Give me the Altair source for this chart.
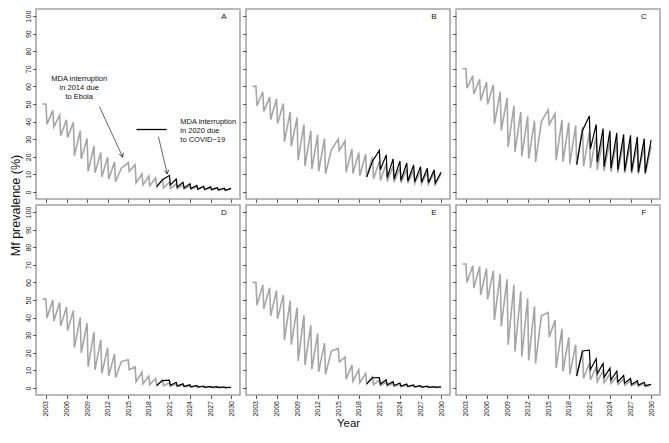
import altair as alt
import pandas as pd

FONT = "Liberation Sans"
GREY = "#a6a6a6"
FRAME = "#a3a3a3"

# ---- time grid -------------------------------------------------------------
YEARS_MDA = list(range(2003, 2014)) + list(range(2015, 2020))   # 2014 skipped (Ebola)
YEARS_GREY_LATE = list(range(2020, 2030))                        # no COVID interruption
YEARS_BLACK_LATE = list(range(2021, 2030))                       # 2020 round missed
X_TICKS = list(range(2003, 2031, 3))
Y_TICKS = list(range(0, 101, 10))
START_YEAR = 2002.5
EBOLA_YEAR = 2014
COVID_YEAR = 2020
END_YEAR = 2030
DROP = 0.15

# ---- panel A ---------------------------------------------------------------
A_START = 50
A_PEAK = [50, 46.4, 43.7, 41, 39.6, 34.8, 30.4, 26, 22.4, 19.7, 17, 16.7, 15.5, 10.3, 9, 8]
A_TROUGH = [38.4, 37, 32, 31, 20.6, 18.8, 11.7, 10.9, 8.7, 7.3, 5.9, 11.7, 5.2, 4, 3.5, 3]
A_EBOLA = 13.5
A_GREY_PEAK = [7, 5.5, 4.6, 4, 3.5, 3.1, 2.8, 2.6, 2.4, 2.2]
A_GREY_TROUGH = [2.4, 2, 1.8, 1.6, 1.5, 1.4, 1.3, 1.2, 1.1, 1]
A_BLACK_MID = 7
A_BLACK_PEAK = [9.4, 7.3, 5.5, 4.6, 3.7, 3.2, 2.9, 2.4, 2]
A_BLACK_TROUGH = [4, 2.8, 2.3, 1.9, 1.6, 1.4, 1.3, 1.1, 1]
A_END = [1.8, 2]

# ---- panel B ---------------------------------------------------------------
B_START = 60
B_PEAK = [60, 57, 54, 53, 50.3, 45.5, 42.3, 38.4, 34.8, 32.5, 30.4, 30, 29, 24.5, 22.4, 21.5]
B_TROUGH = [49, 45.8, 41, 38.9, 28.6, 26, 18, 14.8, 13, 11.7, 10.3, 23.5, 11.2, 10.5, 9.2, 8.5]
B_EBOLA = 24
B_GREY_PEAK = [20, 17.5, 16, 14.8, 13.8, 13, 12.4, 11.8, 11.3, 10.8]
B_GREY_TROUGH = [7.5, 6.5, 6, 5.6, 5.3, 5, 4.8, 4.6, 4.4, 4.3]
B_BLACK_MID = 17.5
B_BLACK_PEAK = [23.6, 21.1, 18.8, 17.6, 16.5, 15.3, 14.4, 13.5, 12.6]
B_BLACK_TROUGH = [12.6, 8.2, 7.3, 6.6, 6.2, 5.8, 5.5, 5.2, 5]
B_END = [10.3, 11.2]

# ---- panel C ---------------------------------------------------------------
C_START = 70
C_PEAK = [70, 66, 64, 62.5, 61, 57, 53.5, 49, 45.5, 43, 40.5, 46.7, 44.5, 41, 39.4, 37.7]
C_TROUGH = [59, 55.7, 52, 49.7, 38.5, 35, 25.6, 22.7, 20.4, 19, 17.1, 38.4, 18, 17.2, 16, 15.5]
C_EBOLA = 40
C_GREY_PEAK = [36.8, 34, 32, 30.5, 29.5, 28.5, 28, 27.5, 27, 26.5]
C_GREY_TROUGH = [14.6, 13.5, 12.5, 12, 11.5, 11, 10.8, 10.5, 10.3, 10]
C_BLACK_MID = 35
C_BLACK_PEAK = [43.2, 38.4, 36, 34.8, 33.6, 32.7, 32.2, 31.3, 30.4]
C_BLACK_TROUGH = [24.5, 17, 14.4, 13.5, 12.6, 12, 11.7, 11.3, 10.9]
C_END = [26, 29.5]

# ---- panel D ---------------------------------------------------------------
D_START = 50.5
D_PEAK = [50.5, 50, 48.6, 46, 44, 40, 36.8, 31.8, 27.3, 22.9, 19.3, 16, 12, 8.9, 6.8, 5.4]
D_TROUGH = [39.8, 38, 35.4, 32.7, 22.9, 20, 12, 10.3, 8.2, 6.8, 5.9, 10.4, 3.6, 2.3, 1.9, 1.4]
D_EBOLA = 15
D_GREY_PEAK = [4.6, 3, 2.2, 1.7, 1.3, 1, 0.8, 0.6, 0.5, 0.4]
D_GREY_TROUGH = [1.2, 1, 0.8, 0.6, 0.5, 0.4, 0.3, 0.3, 0.2, 0.2]
D_BLACK_MID = 4.2
D_BLACK_PEAK = [4.5, 3.2, 2.4, 1.8, 1.4, 1.1, 0.9, 0.7, 0.5]
D_BLACK_TROUGH = [1.5, 1.2, 0.9, 0.7, 0.5, 0.4, 0.3, 0.3, 0.2]
D_END = [0.3, 0.4]

# ---- panel E ---------------------------------------------------------------
E_START = 60
E_PEAK = [60, 58.6, 57, 55.4, 52.9, 49.6, 45.7, 41.3, 35.7, 30.9, 25.5, 22.5, 17.5, 13, 10.4, 8.2]
E_TROUGH = [47, 45, 41, 39.3, 27.3, 24.6, 15.4, 13, 10.7, 9.1, 7.7, 14.8, 5, 3.8, 2.9, 2.3]
E_EBOLA = 21
E_GREY_PEAK = [6.4, 4.5, 3.4, 2.6, 2, 1.6, 1.3, 1, 0.8, 0.7]
E_GREY_TROUGH = [1.8, 1.4, 1.1, 0.9, 0.7, 0.6, 0.5, 0.4, 0.3, 0.3]
E_BLACK_MID = 5.8
E_BLACK_PEAK = [5.9, 4.6, 3.6, 2.8, 2.2, 1.7, 1.3, 1, 0.8]
E_BLACK_TROUGH = [2.2, 1.8, 1.4, 1.1, 0.9, 0.7, 0.5, 0.4, 0.3]
E_END = [0.5, 0.6]

# ---- panel F ---------------------------------------------------------------
F_START = 70.5
F_PEAK = [70.5, 69.6, 69, 67.9, 66.6, 64.8, 61.8, 58.6, 55, 50.9, 46.4, 42.9, 38.6, 33.6, 28.8, 24.6]
F_TROUGH = [60, 56.8, 52.9, 50.5, 38.6, 35, 24.6, 20.7, 17.9, 15.7, 13.9, 28.8, 11.3, 9.5, 7.7, 6.8]
F_EBOLA = 41
F_GREY_PEAK = [21, 14, 12, 10, 8, 6.5, 5, 4, 3, 2.5]
F_GREY_TROUGH = [5.5, 4.5, 3.5, 3, 2.5, 2, 1.5, 1.2, 1, 0.8]
F_BLACK_MID = 21
F_BLACK_PEAK = [21.5, 16.6, 13.9, 11.3, 9.5, 7.1, 5.4, 4.1, 3.2]
F_BLACK_TROUGH = [10.4, 8, 6, 4.5, 3.5, 2.7, 2, 1.6, 1.3]
F_END = [1.5, 2.1]

PANELS = {
    "A": (A_START, A_PEAK, A_TROUGH, A_EBOLA, A_GREY_PEAK, A_GREY_TROUGH, A_BLACK_MID, A_BLACK_PEAK, A_BLACK_TROUGH, A_END),
    "B": (B_START, B_PEAK, B_TROUGH, B_EBOLA, B_GREY_PEAK, B_GREY_TROUGH, B_BLACK_MID, B_BLACK_PEAK, B_BLACK_TROUGH, B_END),
    "C": (C_START, C_PEAK, C_TROUGH, C_EBOLA, C_GREY_PEAK, C_GREY_TROUGH, C_BLACK_MID, C_BLACK_PEAK, C_BLACK_TROUGH, C_END),
    "D": (D_START, D_PEAK, D_TROUGH, D_EBOLA, D_GREY_PEAK, D_GREY_TROUGH, D_BLACK_MID, D_BLACK_PEAK, D_BLACK_TROUGH, D_END),
    "E": (E_START, E_PEAK, E_TROUGH, E_EBOLA, E_GREY_PEAK, E_GREY_TROUGH, E_BLACK_MID, E_BLACK_PEAK, E_BLACK_TROUGH, E_END),
    "F": (F_START, F_PEAK, F_TROUGH, F_EBOLA, F_GREY_PEAK, F_GREY_TROUGH, F_BLACK_MID, F_BLACK_PEAK, F_BLACK_TROUGH, F_END),
}

# ---- annotations in panel A (year / prevalence coordinates) -----------------
NOTE_LINES_1 = ["MDA interruption", "in 2014 due", "to Ebola"]
NOTE_LINES_2 = ["MDA interruption", "in 2020 due", "to COVID\u221219"]
NOTE_POS_1 = (2007.85, 66.5)
NOTE_POS_2 = (2022.6, 42)
ARROW_1 = (2010.8, 48.5, 2014.2, 19.8, 157)
ARROW_2 = (2019.4, 31.5, 2020.7, 10.2, 167)
BAR = (2016.2, 2020.6, 35.5)

W, H = 204, 190
X_DOMAIN = [2001.55, 2031.3]
Y_DOMAIN = [-4, 104]
XS = alt.Scale(domain=X_DOMAIN, nice=False, zero=False)
YS = alt.Scale(domain=Y_DOMAIN, nice=False, zero=False)


def px(year):
    return (year - X_DOMAIN[0]) / (X_DOMAIN[1] - X_DOMAIN[0]) * W


def py(val):
    return (Y_DOMAIN[1] - val) / (Y_DOMAIN[1] - Y_DOMAIN[0]) * H


def build_frames(key):
    start, peak, trough, ebola, gpk, gtr, bmid, bpk, btr, end = PANELS[key]
    grey = [(START_YEAR, start)]
    for y, p, t in zip(YEARS_MDA, peak, trough):
        grey += [(y, p), (y + DROP, t)]
    grey.append((EBOLA_YEAR, ebola))
    for y, p, t in zip(YEARS_GREY_LATE, gpk, gtr):
        grey += [(y, p), (y + DROP, t)]
    grey.append((END_YEAR, end[0]))
    black = [(YEARS_MDA[-1] + DROP, trough[-1]), (COVID_YEAR, bmid)]
    for y, p, t in zip(YEARS_BLACK_LATE, bpk, btr):
        black += [(y, p), (y + DROP, t)]
    black.append((END_YEAR, end[1]))
    g = pd.DataFrame(grey, columns=["year", "value"])
    b = pd.DataFrame(black, columns=["year", "value"])
    return g, b


def axes(key, row, col):
    if row == 1:
        xa = alt.Axis(values=X_TICKS, format="d", labelAngle=270, labelAlign="right",
                      labelBaseline="middle", labelPadding=2, labelFontSize=7,
                      labelFlush=False, labelOverlap=False,
                      title=("Year" if key == "E" else ""),
                      titleFontSize=11.5, titleFontWeight="normal", titlePadding=1)
    else:
        xa = alt.Axis(values=X_TICKS, labels=False, title="")
    if col == 0:
        ya = alt.Axis(values=Y_TICKS, labelAngle=270, labelAlign="center",
                      labelBaseline="bottom", labelPadding=1.5, labelFontSize=7,
                      labelFlush=False, labelOverlap=False,
                      title=("Mf prevalence (%)" if key == "A" else ""),
                      titleAngle=270, titleX=-14, titleY=H + 6, titleAlign="center",
                      titleBaseline="bottom", titleFontSize=12.5, titleFontWeight="normal")
    else:
        ya = alt.Axis(values=Y_TICKS, labels=False, title="")
    return xa, ya


def one_row(**kw):
    return pd.DataFrame({k: [v] for k, v in kw.items()})


def panel(key, row, col):
    g, b = build_frames(key)
    xa, ya = axes(key, row, col)
    grey = alt.Chart(g).mark_line(color=GREY, strokeWidth=1.6).encode(
        x=alt.X("year:Q", scale=XS, axis=xa), y=alt.Y("value:Q", scale=YS, axis=ya))
    blk = alt.Chart(b).mark_line(color="black", strokeWidth=1.2).encode(
        x=alt.X("year:Q", scale=XS, axis=xa), y=alt.Y("value:Q", scale=YS, axis=ya))
    letter = alt.Chart(one_row(t=key)).mark_text(
        fontSize=8, font=FONT, align="center", baseline="middle", color="#111").encode(
        text="t:N", x=alt.value(W - 16), y=alt.value(8))
    layers = [grey, blk, letter]
    if key == "A":
        t1 = alt.Chart(one_row(t=NOTE_LINES_1[0])).mark_text(
            text=NOTE_LINES_1, fontSize=7.5, lineHeight=9, font=FONT, align="center",
            baseline="top", color="#111").encode(
            x=alt.value(px(NOTE_POS_1[0])), y=alt.value(py(NOTE_POS_1[1])))
        t2 = alt.Chart(one_row(t=NOTE_LINES_2[0])).mark_text(
            text=NOTE_LINES_2, fontSize=7.5, lineHeight=9, font=FONT, align="left",
            baseline="top", color="#111").encode(
            x=alt.value(px(NOTE_POS_2[0])), y=alt.value(py(NOTE_POS_2[1])))
        layers += [t1, t2]
        bar = alt.Chart(one_row(k=0)).mark_rule(color="black", strokeWidth=1.3).encode(
            x=alt.value(px(BAR[0])), x2=alt.value(px(BAR[1])), y=alt.value(py(BAR[2])))
        layers.append(bar)
        for (x1, y1, x2, y2, ang) in (ARROW_1, ARROW_2):
            shaft = alt.Chart(one_row(k=0)).mark_rule(color="#222", strokeWidth=0.7).encode(
                x=alt.value(px(x1)), y=alt.value(py(y1)),
                x2=alt.value(px(x2)), y2=alt.value(py(y2)))
            head = alt.Chart(one_row(k=0)).mark_point(
                shape="M-0.55,1L0,0L0.55,1", size=60, angle=ang, filled=False,
                color="#222", strokeWidth=0.8, opacity=1).encode(
                x=alt.value(px(x2)), y=alt.value(py(y2)))
            layers += [shaft, head]
    return alt.layer(*layers).properties(width=W, height=H)


panels = [panel(k, i // 3, i % 3) for i, k in enumerate(["A", "B", "C", "D", "E", "F"])]

chart = (
    alt.concat(*panels, columns=3, spacing=6, bounds="flush")
    .properties(padding=0, background="white")
    .configure_view(stroke=FRAME, strokeWidth=1.5)
    .configure_axis(labelFont=FONT, titleFont=FONT, labelColor="#222", titleColor="#111",
                    tickColor="#333", tickSize=3.5, tickWidth=0.8, domain=False, grid=False)
)

chart.save("out.html", embed_options={"renderer": "svg", "actions": False})
